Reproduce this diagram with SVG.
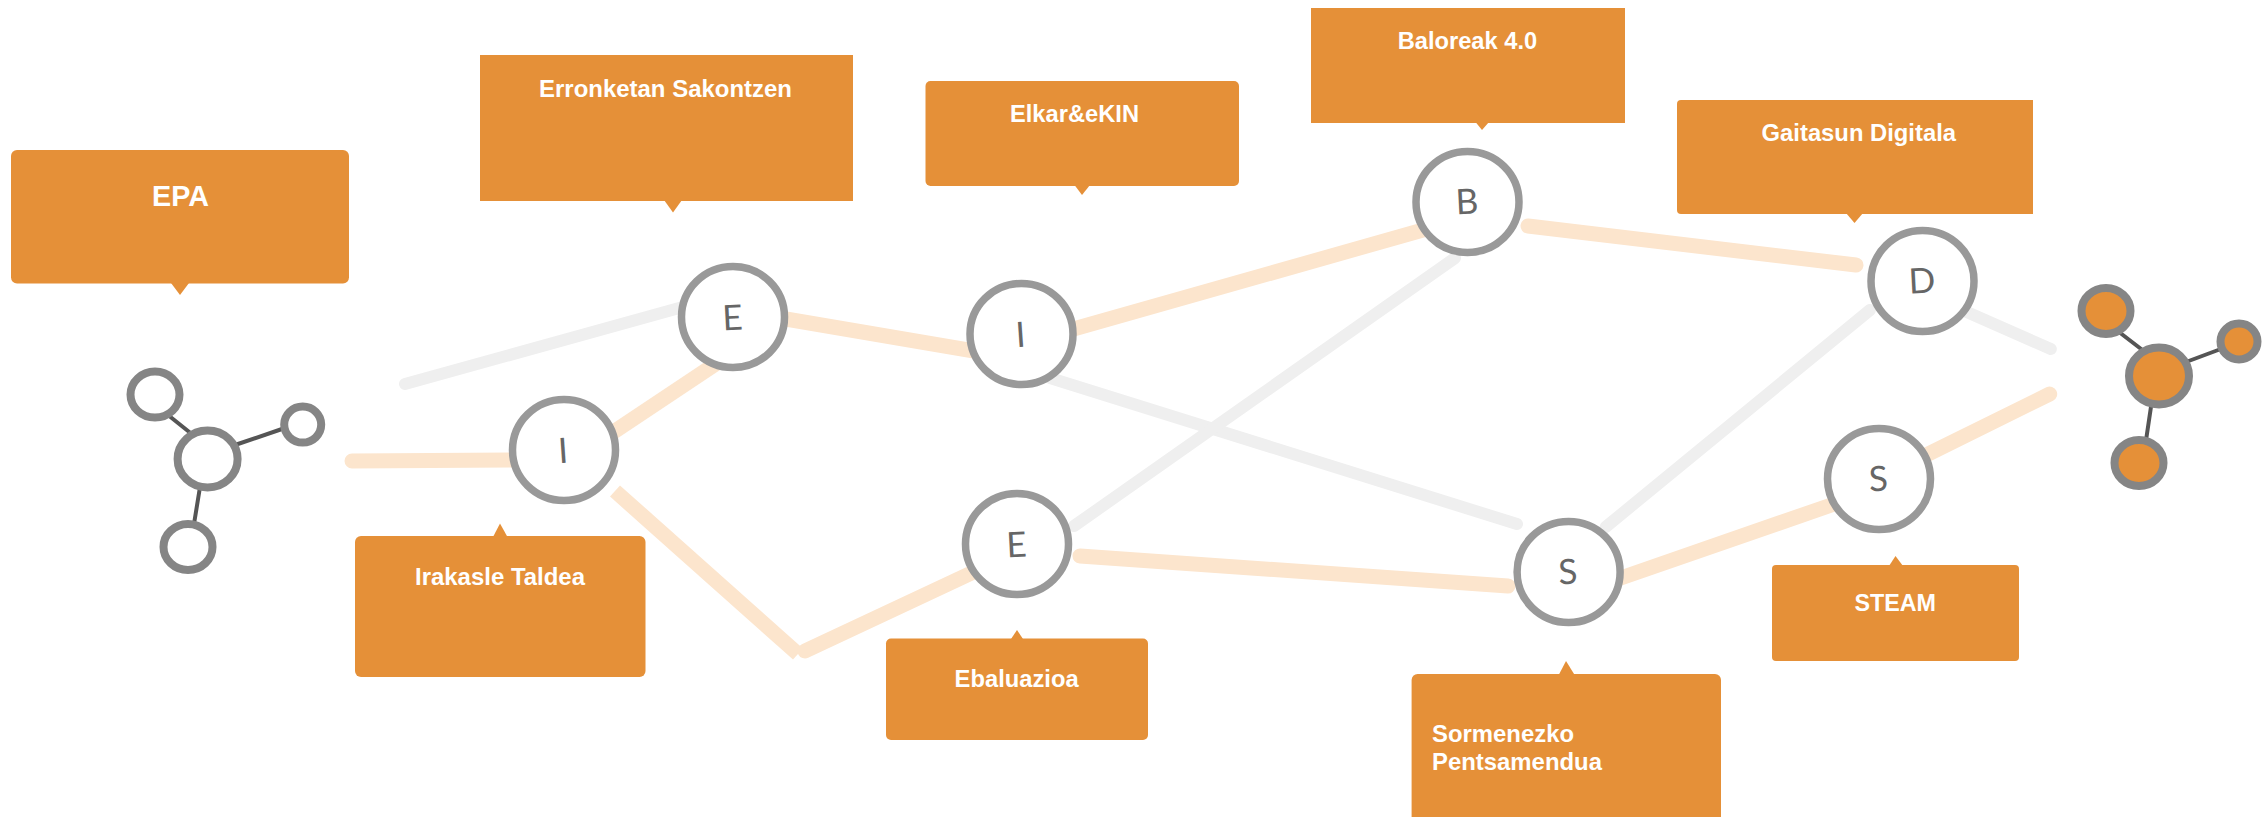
<svg xmlns="http://www.w3.org/2000/svg" width="2267" height="817" viewBox="0 0 2267 817">
<style>
.box{fill:#e59038}
.lbl{font-family:"Liberation Sans",Arial,sans-serif;font-weight:700;font-size:24px;fill:#fff}
.o{stroke:#fce5cd;stroke-width:15;fill:none;stroke-linecap:round}
.ob{stroke:#fce5cd;stroke-width:15;fill:none;stroke-linecap:butt}
.g{stroke:#efefef;stroke-width:12;fill:none;stroke-linecap:round}
.nd{fill:#fff;stroke:#999;stroke-width:7.500}
.let{font-family:Lato,"Open Sans",sans-serif;font-weight:400;font-size:35px;fill:#666;text-anchor:middle}
.at{fill:#fff;stroke:#858585;stroke-width:8}
.af{fill:#e59038;stroke:#858585;stroke-width:8}
.lk{stroke:#555;stroke-width:4;fill:none}
</style>
<rect width="2267" height="817" fill="#fff"/>
<g id="connectors">
<path class="o" d="M352 461L520 460"/>
<path class="g" d="M405 384L690 305"/>
<path class="o" d="M612 433L720 361"/>
<path class="ob" d="M615 491L798 654"/>
<path class="o" d="M805 651L980 569"/>
<path class="o" d="M780 318L980 352"/>
<path class="o" d="M1070 330L1430 228"/>
<path class="g" d="M1050 378L1517 524"/>
<path class="g" d="M1074 526L1455 258"/>
<path class="o" d="M1080 556L1508 586"/>
<path class="o" d="M1528 226L1856 265"/>
<path class="g" d="M1605.700 527L1870 310"/>
<path class="o" d="M1615 580L1840 502"/>
<path class="o" d="M1910 463L2049.700 394"/>
<path class="g" d="M1960 309L2050.800 349"/>
</g>
<g id="mol-left">
<path class="lk" d="M168 415L193 435M235 445L282 429M200 487L194 524"/>
<ellipse class="at" cx="207.600" cy="459" rx="30" ry="28.500"/>
<ellipse class="at" cx="155" cy="394.600" rx="24.500" ry="23"/>
<ellipse class="at" cx="302.700" cy="424.600" rx="18.500" ry="18"/>
<ellipse class="at" cx="188" cy="547" rx="24.500" ry="23"/>
</g>
<g id="mol-right">
<path class="lk" d="M2119 332L2143.700 351M2186 362L2219.500 349.500M2151.400 404L2146 440.500"/>
<ellipse class="af" cx="2159" cy="376" rx="30" ry="28.500"/>
<ellipse class="af" cx="2106" cy="311" rx="24.500" ry="23"/>
<ellipse class="af" cx="2239" cy="341.500" rx="18.500" ry="18"/>
<ellipse class="af" cx="2139" cy="463" rx="24.500" ry="23"/>
</g>
<g id="n-i1"><ellipse class="nd" cx="564" cy="450" rx="51.500" ry="50.500"/><text class="let" transform="translate(564 463) rotate(-4)">I</text></g>
<g id="n-e1"><ellipse class="nd" cx="733" cy="317" rx="51.500" ry="50.500"/><text class="let" transform="translate(733 330) rotate(-3)">E</text></g>
<g id="n-i2"><ellipse class="nd" cx="1021.500" cy="334" rx="51.500" ry="50.500"/><text class="let" transform="translate(1021.500 347) rotate(-4)">I</text></g>
<g id="n-e2"><ellipse class="nd" cx="1017" cy="544" rx="51.500" ry="50.500"/><text class="let" transform="translate(1017 557) rotate(-3)">E</text></g>
<g id="n-b"><ellipse class="nd" cx="1467.500" cy="202" rx="51.500" ry="50.500"/><text class="let" transform="translate(1467.500 214) rotate(-3)">B</text></g>
<g id="n-d"><ellipse class="nd" cx="1922.500" cy="281" rx="51.500" ry="50.500"/><text class="let" transform="translate(1922.500 293) rotate(-3)">D</text></g>
<g id="n-s1"><ellipse class="nd" cx="1568.600" cy="572" rx="51.500" ry="50.500"/><text class="let" transform="translate(1568.600 584) rotate(-3)">S</text></g>
<g id="n-s2"><ellipse class="nd" cx="1879" cy="479" rx="51.500" ry="50.500"/><text class="let" transform="translate(1879 491) rotate(-3)">S</text></g>
<g id="box-epa"><rect class="box" x="11" y="150" width="338" height="133.500" rx="6"/><polygon class="box" points="171,283 189,283 180,295"/><text class="lbl" x="152" y="205.700" style="font-size:30px" textLength="57" lengthAdjust="spacingAndGlyphs">EPA</text></g>
<g id="box-erronketan"><rect class="box" x="480" y="55" width="373" height="146"/><polygon class="box" points="664,200 682,200 673,212.500"/><text class="lbl" x="539" y="97.400" textLength="253" lengthAdjust="spacingAndGlyphs">Erronketan Sakontzen</text></g>
<g id="box-elkar"><rect class="box" x="925.500" y="81" width="313.500" height="105" rx="5"/><polygon class="box" points="1074.500,185 1090,185 1082,195"/><text class="lbl" x="1010" y="122.400" textLength="129" lengthAdjust="spacingAndGlyphs">Elkar&amp;eKIN</text></g>
<g id="box-baloreak"><rect class="box" x="1311" y="8" width="314" height="115"/><polygon class="box" points="1475.500,122 1489,122 1482,130"/><text class="lbl" x="1397.700" y="49" textLength="139.500" lengthAdjust="spacingAndGlyphs">Baloreak 4.0</text></g>
<g id="box-gaitasun"><path class="box" d="M1681 100H2033V214H1681A4 4 0 0 1 1677 210V104A4 4 0 0 1 1681 100Z"/><polygon class="box" points="1846,213 1863,213 1854.500,223"/><text class="lbl" x="1761.600" y="141" textLength="194.400" lengthAdjust="spacingAndGlyphs">Gaitasun Digitala</text></g>
<g id="box-irakasle"><rect class="box" x="355" y="536" width="290.500" height="141" rx="6"/><polygon class="box" points="493,537 507.500,537 500,523.500"/><text class="lbl" x="415" y="584.600" textLength="170" lengthAdjust="spacingAndGlyphs">Irakasle Taldea</text></g>
<g id="box-ebaluazioa"><rect class="box" x="886" y="638.500" width="262" height="101.500" rx="5"/><polygon class="box" points="1011,639 1023,639 1017,630"/><text class="lbl" x="954.600" y="686.500" textLength="124" lengthAdjust="spacingAndGlyphs">Ebaluazioa</text></g>
<g id="box-steam"><rect class="box" x="1772" y="565" width="247" height="96" rx="4"/><polygon class="box" points="1889,566 1903,566 1895.500,556"/><text class="lbl" x="1854.500" y="611" textLength="81.500" lengthAdjust="spacingAndGlyphs">STEAM</text></g>
<g id="box-sormenezko"><rect class="box" x="1411.600" y="674" width="309.400" height="160" rx="6"/><polygon class="box" points="1558.700,675 1574.700,675 1566,661"/><text class="lbl" x="1432" y="742" textLength="142" lengthAdjust="spacingAndGlyphs">Sormenezko</text><text class="lbl" x="1432" y="770" textLength="170" lengthAdjust="spacingAndGlyphs">Pentsamendua</text></g>
</svg>
